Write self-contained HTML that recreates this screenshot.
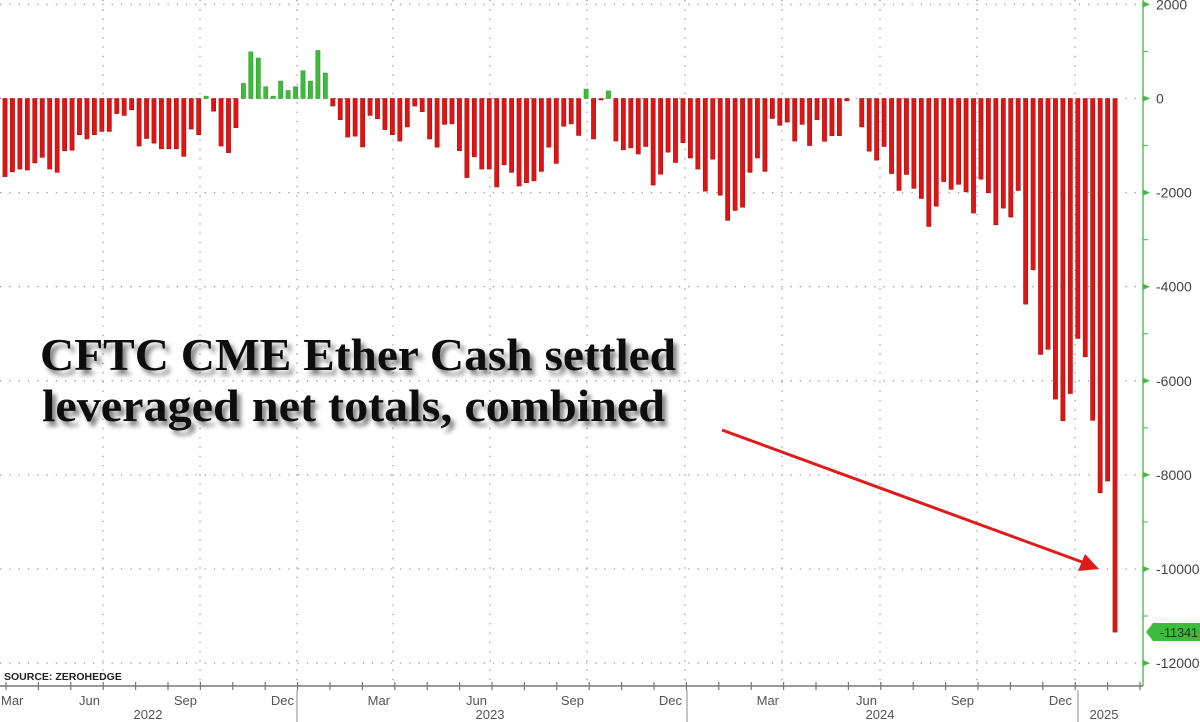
<!DOCTYPE html>
<html><head><meta charset="utf-8"><style>
html,body{margin:0;padding:0;background:#fff;}
svg{display:block;}
</style></head><body>
<svg id="c" width="1200" height="722" viewBox="0 0 1200 722" xmlns="http://www.w3.org/2000/svg">
<defs>
<filter id="sh" x="-5%" y="-20%" width="115%" height="160%">
<feGaussianBlur in="SourceAlpha" stdDeviation="2.5"/>
<feOffset dx="4" dy="5" result="b"/>
<feComponentTransfer><feFuncA type="linear" slope="0.5"/></feComponentTransfer>
<feMerge><feMergeNode/><feMergeNode in="SourceGraphic"/></feMerge>
</filter>
</defs>
<g id="grid" stroke="#9a9a9a" stroke-width="1.3" stroke-dasharray="1.3,8"></g>
<g id="bars"></g>
<line x1="1143" y1="0" x2="1143" y2="686" stroke="#5cc15c" stroke-width="1.5"/>
<g id="rax" font-family="Liberation Sans, sans-serif" font-size="14" fill="#444"></g>
<line x1="0" y1="686" x2="1143" y2="686" stroke="#777" stroke-width="1.5"/>
<g id="xax" font-family="Liberation Sans, sans-serif" font-size="13" fill="#555"></g>
<text x="4" y="680" font-family="Liberation Sans, sans-serif" font-size="10.5" font-weight="bold" fill="#222">SOURCE: ZEROHEDGE</text>
<g filter="url(#sh)" font-family="Liberation Serif, serif" font-size="46" font-weight="bold" fill="#111">
<text x="40" y="370" textLength="636" lengthAdjust="spacingAndGlyphs">CFTC CME Ether Cash settled</text>
<text x="42" y="421" textLength="623" lengthAdjust="spacingAndGlyphs">leveraged net totals, combined</text>
</g>
<line x1="722" y1="430" x2="1082" y2="562" stroke="#e01b1b" stroke-width="3"/>
<polygon points="1099,569 1078,571 1085,554" fill="#e01b1b"/>
<polygon points="1146,632 1153,623 1200,623 1200,641 1153,641" fill="#3dbb3d"/>
<text x="1160" y="637" font-family="Liberation Sans, sans-serif" font-size="12.5" fill="#0a3a0a">-11341</text>
</svg>
<script>
var NS="http://www.w3.org/2000/svg";
function el(p,t,a,txt){var e=document.createElementNS(NS,t);for(var k in a)e.setAttribute(k,a[k]);if(txt!=null)e.textContent=txt;p.appendChild(e);return e;}
var z=98.5,ppu=47.05/1000;
function Y(v){return z-v*ppu;}
var g=document.getElementById('grid');
for(var v=2000;v>=-12000;v-=2000){el(g,'line',{x1:0,y1:Y(v),x2:1140,y2:Y(v)});}
var vx=[103,200,297,393,490,587,685,782,880,977,1075];
vx.forEach(function(x){el(g,'line',{x1:x,y1:0,x2:x,y2:684});});
var vals=[-1660,-1560,-1500,-1520,-1370,-1250,-1500,-1570,-1110,-1100,-770,-860,-770,-700,-700,-320,-360,-240,-1010,-850,-950,-1070,-1070,-1070,-1230,-650,-770,
50,-270,-1010,-1150,-620,
320,990,860,250,50,370,170,250,590,370,1020,540,
-160,-450,-820,-800,-1030,-360,-430,-660,-770,
-905,-605,-160,-280,-860,-1035,-550,-540,-1110,-1680,-1240,-1500,-1500,-1880,-1410,-1570,-1860,-1790,-1750,-1550,-1035,-1380,-590,-540,-785,200,-860,-30,160,-905,-1090,-1050,-1180,-1020,-1840,-1610,-1140,-1360,-940,-1265,-1500,-1970,-1290,-2055,-2590,-2380,-2310,-1570,-1265,-1550,-425,-570,-500,-905,
-550,-1000,-450,-910,-790,-790,-50,0,-605,-1120,-1310,-1020,-1595,-1955,-1615,-1910,-2125,-2720,-2290,-1765,-1930,-1825,-1985,-2435,-1715,-2005,-2685,-2330,-2520,-1955,-4370,-3640,-5440,-5330,-6390,-6850,-6270,-5100,-5490,-6840,-8380,-8130,-11341];
var b=document.getElementById('bars');
vals.forEach(function(v,i){
 if(v===0)return;
 var cx=5+7.45*i,w=4.2;
 var y1=Math.min(Y(v),z),h=Math.abs(Y(v)-z);
 if(h<1.5)h=1.5;
 el(b,'rect',{x:cx-w/2,y:y1,width:w,height:h,fill:v>0?'#3dbb3d':'#dd1515',stroke:v>0?'#2f9a2f':'#b01010','stroke-width':0.6});
});
var r=document.getElementById('rax');
for(var v=2000;v>=-12000;v-=1000){
 var y=Y(v);
 if(v%2000===0){el(r,'polygon',{points:(1143)+','+(y-3)+' '+(1150)+','+y+' '+1143+','+(y+3),fill:'#3dbb3d'});
  el(r,'text',{x:1156,y:y+5},String(v));}
 else el(r,'line',{x1:1143,y1:y,x2:1148,y2:y,stroke:'#5cc15c','stroke-width':1.2});
}
var xa=document.getElementById('xax');
for(var i=0;i<36;i++){var x=6+i*32.4;el(xa,'line',{x1:x,y1:682,x2:x,y2:690,stroke:'#777','stroke-width':1.2});}
var ml=['Mar','Jun','Sep','Dec','Mar','Jun','Sep','Dec','Mar','Jun','Sep','Dec'];
var mx=[0,103,200,297,393,490,587,685,782,880,977,1075];
ml.forEach(function(m,i){
 if(i==0)el(xa,'text',{x:1,y:705},m);
 else el(xa,'text',{x:mx[i]-3,y:705,'text-anchor':'end'},m);
});
[297,687,1078].forEach(function(x){el(xa,'line',{x1:x,y1:690,x2:x,y2:722,stroke:'#888','stroke-width':1});});
[['2022',148],['2023',490],['2024',880],['2025',1104]].forEach(function(a){el(xa,'text',{x:a[1],y:719,'text-anchor':'middle'},a[0]);});
</script>
</body></html>
